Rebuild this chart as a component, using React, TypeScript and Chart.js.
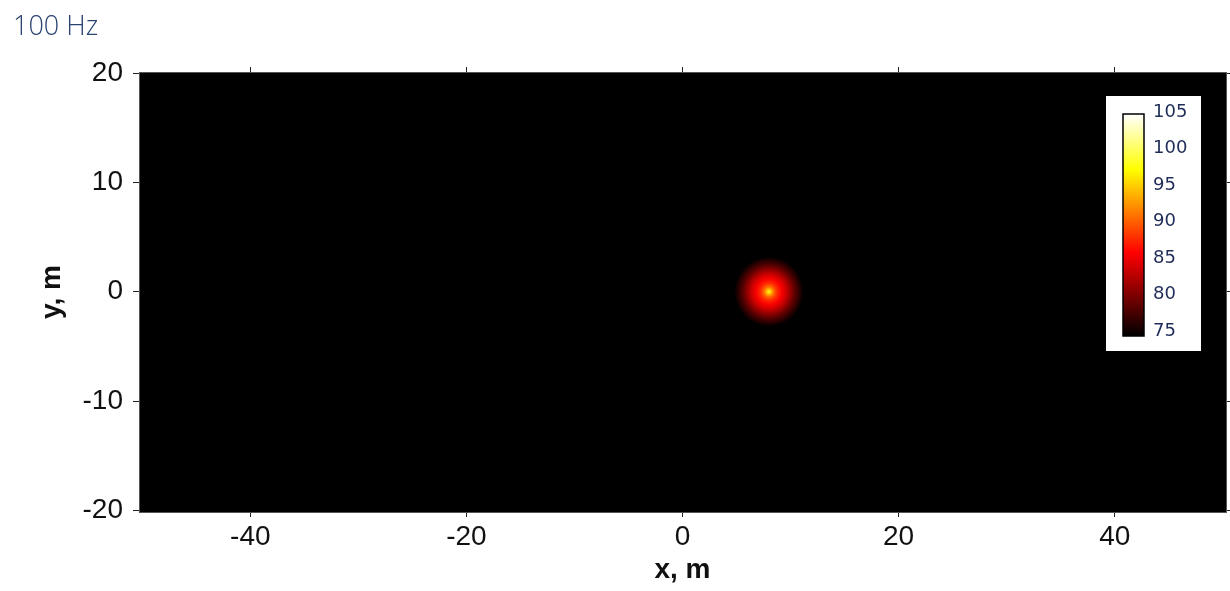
import { useEffect, useRef } from "react";
import { Chart, registerables } from "chart.js";

Chart.register(...registerables);

// Plot text
const TITLE = "100 Hz";
const X_LABEL = "x, m";
const Y_LABEL = "y, m";

// Axis extents (m) and tick positions
const X_RANGE = [-50.3, 50.3];
const Y_RANGE = [-20.15, 20.1];
const X_TICKS = [-40, -20, 0, 20, 40];
const Y_TICKS = [-20, -10, 0, 10, 20];

// Source location (m)
const SOURCE_X = [8];
const SOURCE_Y = [0];

// Radial sound level profile around the source: distance (m) -> level (dB)
const PROFILE_DIST = [0, 0.25, 0.5, 0.8, 1.2, 1.6, 2.0, 2.4, 2.8, 3.2];
const PROFILE_LEVEL = [98.5, 94, 90.5, 88, 86, 84, 81.5, 79, 77, 75];

// Colour scale (dB)
const LEVEL_MIN = 75;
const LEVEL_MAX = 105;
const CBAR_TICKS = [75, 80, 85, 90, 95, 100, 105];

const TICK_FONT = "'Liberation Sans', Arial, sans-serif";
const TITLE_SIZE = 27;
const TITLE_PAD_TOP = 11;

// "hot" colour map: black -> red -> yellow -> white
function hot(level: number): string {
  const t = Math.min(1, Math.max(0, (level - LEVEL_MIN) / (LEVEL_MAX - LEVEL_MIN)));
  const r = Math.min(1, t / 0.375);
  const g = Math.min(1, Math.max(0, (t - 0.375) / 0.375));
  const b = Math.min(1, Math.max(0, (t - 0.75) / 0.25));
  return `rgb(${Math.round(r * 255)},${Math.round(g * 255)},${Math.round(b * 255)})`;
}

const fieldPlugin = {
  id: "soundField",
  beforeDraw(chart: any) {
    const { ctx, chartArea: a } = chart;
    ctx.save();
    ctx.fillStyle = hot(LEVEL_MIN);
    ctx.fillRect(a.left, a.top, a.right - a.left, a.bottom - a.top);
    ctx.restore();
  },
  beforeDatasetsDraw(chart: any) {
    const { ctx, chartArea: a, scales } = chart;
    const xs = scales.x;
    const ys = scales.y;
    const dMax = PROFILE_DIST[PROFILE_DIST.length - 1];
    ctx.save();
    ctx.beginPath();
    ctx.rect(a.left, a.top, a.right - a.left, a.bottom - a.top);
    ctx.clip();
    SOURCE_X.forEach((sx, i) => {
      const sy = SOURCE_Y[i];
      const cx = xs.getPixelForValue(sx);
      const cy = ys.getPixelForValue(sy);
      const pxPerM = Math.abs(xs.getPixelForValue(sx + 1) - cx);
      const pyPerM = Math.abs(ys.getPixelForValue(sy + 1) - cy);
      const R = dMax * pxPerM;
      ctx.save();
      ctx.translate(cx, cy);
      ctx.scale(1, pyPerM / pxPerM);
      const g = ctx.createRadialGradient(0, 0, 0, 0, 0, R);
      PROFILE_DIST.forEach((d, k) => g.addColorStop(d / dMax, hot(PROFILE_LEVEL[k])));
      ctx.fillStyle = g;
      ctx.beginPath();
      ctx.arc(0, 0, R, 0, Math.PI * 2);
      ctx.fill();
      ctx.restore();
    });
    ctx.restore();
  },
  afterDraw(chart: any) {
    const { ctx, chartArea: a } = chart;
    const bx = a.right - 120;
    const by = a.top + 24;
    const bw = 95;
    const bh = 255;
    ctx.save();
    ctx.fillStyle = "#ffffff";
    ctx.fillRect(bx, by, bw, bh);

    const barX = bx + 17;
    const barW = 21;
    const barTop = by + 18;
    const barBottom = by + 240;
    const grad = ctx.createLinearGradient(0, barBottom, 0, barTop);
    grad.addColorStop(0, hot(LEVEL_MIN));
    grad.addColorStop(0.375, hot(LEVEL_MIN + 0.375 * (LEVEL_MAX - LEVEL_MIN)));
    grad.addColorStop(0.75, hot(LEVEL_MIN + 0.75 * (LEVEL_MAX - LEVEL_MIN)));
    grad.addColorStop(1, hot(LEVEL_MAX));
    ctx.fillStyle = grad;
    ctx.fillRect(barX, barTop, barW, barBottom - barTop);
    ctx.strokeStyle = "#000000";
    ctx.lineWidth = 1.5;
    ctx.strokeRect(barX, barTop, barW, barBottom - barTop);

    const labTop = by + 16;
    const labBottom = by + 235;
    ctx.fillStyle = "#1f2c58";
    ctx.font = "18px 'DejaVu Sans', Verdana, sans-serif";
    ctx.textAlign = "left";
    ctx.textBaseline = "middle";
    CBAR_TICKS.forEach((v) => {
      const yy = labBottom - ((v - LEVEL_MIN) / (LEVEL_MAX - LEVEL_MIN)) * (labBottom - labTop);
      ctx.fillText(String(v), bx + 47, yy);
    });
    ctx.restore();
  },
};

const gridOpts = {
  display: true,
  drawOnChartArea: false,
  drawTicks: true,
  tickLength: 5,
  color: "#222222",
  tickColor: "#222222",
};
const borderOpts = { display: true, color: "#555555", width: 1 };

export default function App() {
  const canvasRef = useRef<HTMLCanvasElement | null>(null);

  useEffect(() => {
    if (!canvasRef.current) return;
    const chart = new Chart(canvasRef.current, {
      type: "scatter",
      data: {
        datasets: [
          {
            label: "source",
            data: SOURCE_X.map((x, i) => ({ x, y: SOURCE_Y[i] })),
            pointRadius: 0,
            pointHoverRadius: 0,
            showLine: false,
          },
        ],
      },
      options: {
        responsive: false,
        animation: false,
        events: [],
        layout: { padding: { left: 13, right: 4, top: 0, bottom: 0 } },
        plugins: {
          legend: { display: false },
          tooltip: { enabled: false },
          title: {
            display: true,
            text: TITLE,
            align: "start",
            color: "#2a4470",
            font: { family: "'Open Sans', sans-serif", size: TITLE_SIZE, weight: "300", lineHeight: 1.2 },
            padding: { top: TITLE_PAD_TOP, bottom: 0 },
          },
        },
        scales: {
          x: {
            type: "linear",
            position: "bottom",
            min: X_RANGE[0],
            max: X_RANGE[1],
            afterBuildTicks: (s: any) => {
              s.ticks = X_TICKS.map((v) => ({ value: v }));
            },
            afterFit: (s: any) => {
              s.height = 79;
            },
            grid: gridOpts,
            border: borderOpts,
            ticks: {
              color: "#111111",
              font: { family: TICK_FONT, size: 28 },
              padding: 3,
              maxRotation: 0,
              autoSkip: false,
            },
            title: {
              display: true,
              text: X_LABEL,
              color: "#111111",
              font: { family: TICK_FONT, size: 28, weight: "bold" },
              padding: { top: 0, bottom: 4 },
            },
          },
          x2: {
            type: "linear",
            axis: "x",
            position: "top",
            min: X_RANGE[0],
            max: X_RANGE[1],
            afterBuildTicks: (s: any) => {
              s.ticks = X_TICKS.map((v) => ({ value: v }));
            },
            afterFit: (s: any) => {
              s.height = 72 - (TITLE_SIZE * 1.2 + TITLE_PAD_TOP);
            },
            grid: gridOpts,
            border: borderOpts,
            ticks: { display: false },
          },
          y: {
            type: "linear",
            position: "left",
            min: Y_RANGE[0],
            max: Y_RANGE[1],
            afterBuildTicks: (s: any) => {
              s.ticks = Y_TICKS.map((v) => ({ value: v }));
            },
            afterFit: (s: any) => {
              s.width = 126;
            },
            grid: { ...gridOpts, tickLength: 6 },
            border: borderOpts,
            ticks: {
              color: "#111111",
              font: { family: TICK_FONT, size: 28 },
              padding: 10,
              autoSkip: false,
            },
            title: {
              display: true,
              text: Y_LABEL,
              color: "#111111",
              font: { family: TICK_FONT, size: 28, weight: "bold" },
              padding: { top: 22, bottom: 0 },
            },
          },
          y2: {
            type: "linear",
            axis: "y",
            position: "right",
            min: Y_RANGE[0],
            max: Y_RANGE[1],
            afterBuildTicks: (s: any) => {
              s.ticks = Y_TICKS.map((v) => ({ value: v }));
            },
            afterFit: (s: any) => {
              s.width = 0;
            },
            grid: gridOpts,
            border: borderOpts,
            ticks: { display: false },
          },
        },
      } as any,
      plugins: [fieldPlugin],
    });
    return () => chart.destroy();
  }, []);

  return (
    <div
      style={{
        position: "absolute",
        left: 0,
        top: 0,
        width: 1230,
        height: 591,
        background: "#ffffff",
      }}
    >
      <canvas ref={canvasRef} width={1230} height={591} style={{ display: "block" }} />
    </div>
  );
}
